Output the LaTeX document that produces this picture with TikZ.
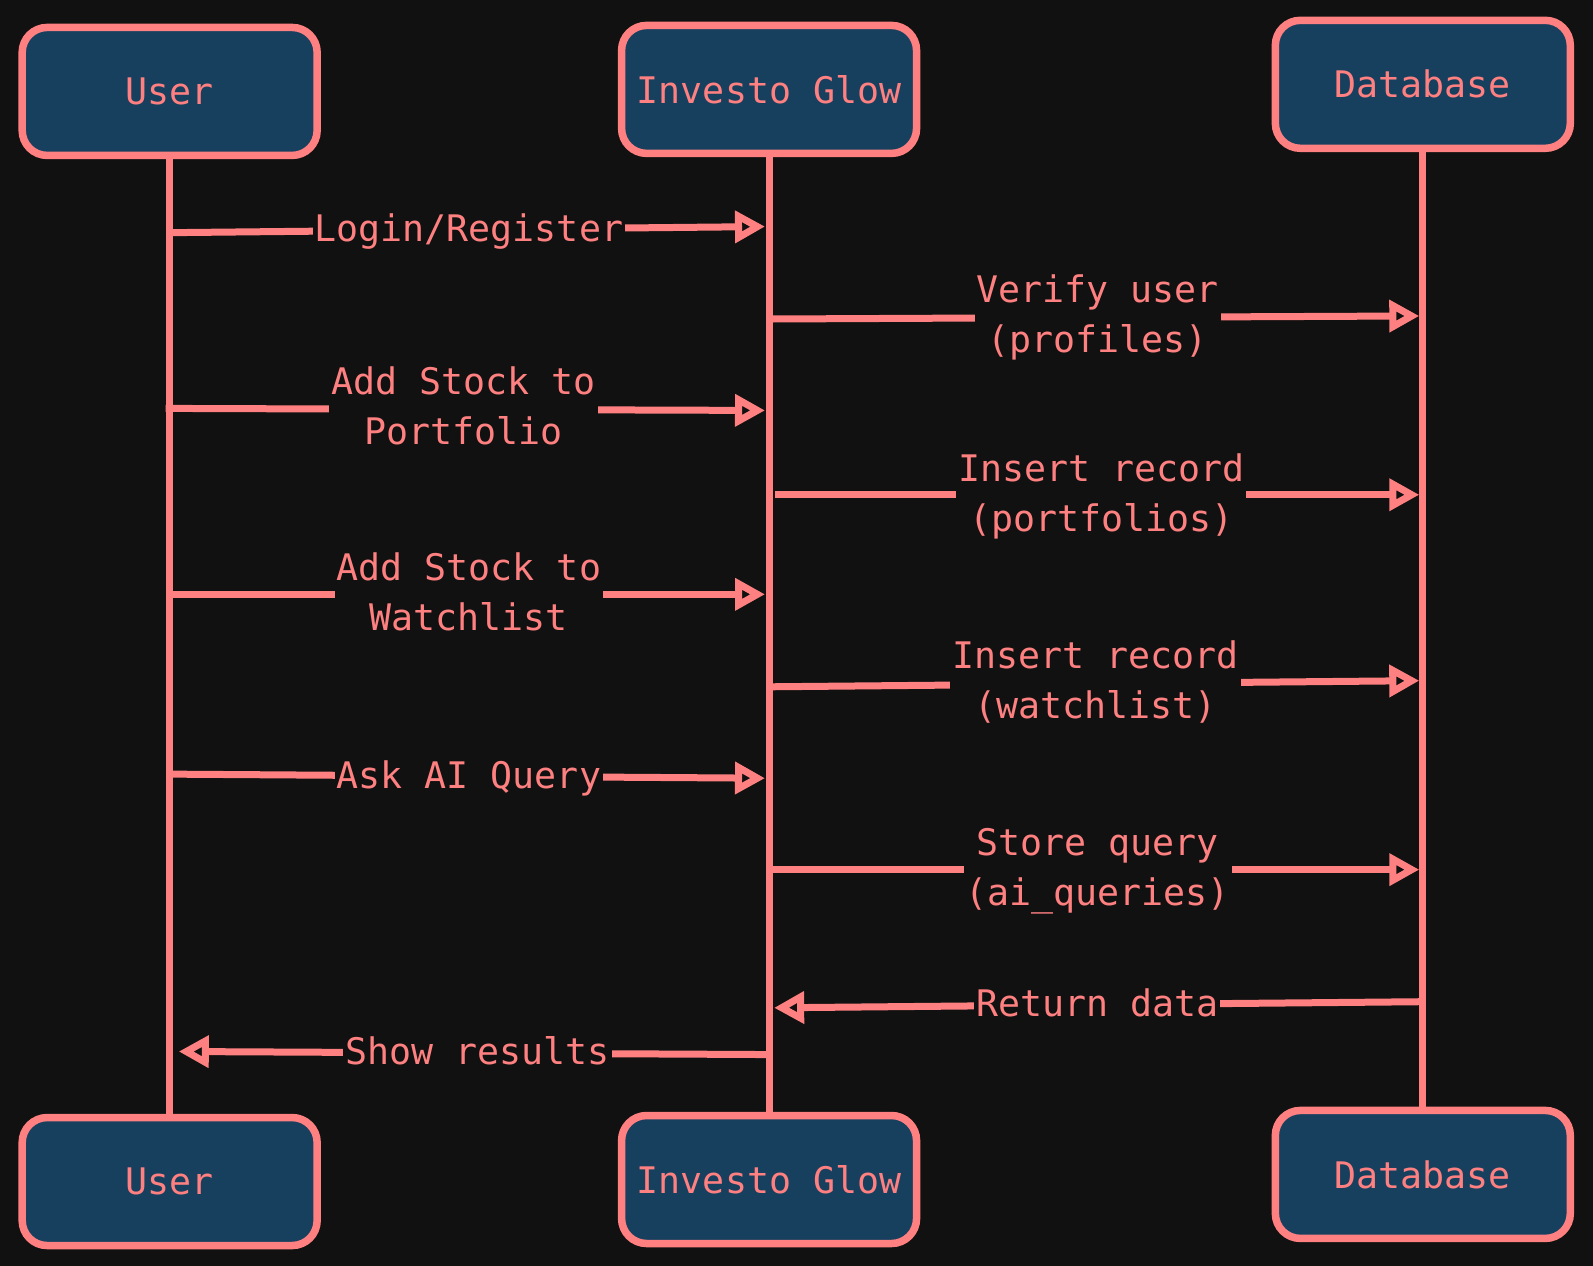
\documentclass[tikz,border=0pt]{standalone}
\usepackage{fontspec}
\setmainfont{DejaVu Sans Mono}
\usetikzlibrary{arrows.meta}
\definecolor{bg}{HTML}{111111}
\definecolor{salmon}{HTML}{FF8080}
\definecolor{boxfill}{HTML}{17405F}
\begin{document}
\begin{tikzpicture}[x=1.016pt,y=-1.016pt,
  actor/.style={draw=salmon, line width=7.5pt, fill=boxfill, rounded corners=25pt,
    minimum width=295pt, minimum height=128pt, text=salmon,
    font=\fontsize{36.6}{50}\selectfont, inner sep=0pt},
  msg/.style={draw=salmon, line width=7pt, -{Triangle[open,length=30pt,width=31pt]}},
  lbl/.style={fill=bg, text=salmon, font=\fontsize{36.6}{50}\selectfont,
    align=center, inner xsep=2pt, inner ysep=0pt},
  life/.style={draw=salmon, line width=7pt}]
\fill[bg] (0,0) rectangle (1568,1246);
\useasboundingbox (0,0) rectangle (1568,1246);

% actors
\node[actor] (uTop) at (167,90) {User};
\node[actor] (iTop) at (757,88) {Investo Glow};
\node[actor] (dTop) at (1400.5,83) {Database};
\node[actor] (uBot) at (167,1163) {User};
\node[actor] (iBot) at (757,1161) {Investo Glow};
\node[actor] (dBot) at (1400.5,1156) {Database};

% lifelines
\draw[life] (uTop.south) -- (uBot.north);
\draw[life] (iTop.south) -- (iBot.north);
\draw[life] (dTop.south) -- (dBot.north);

% message end points
\coordinate (m1a) at (170,229);  \coordinate (m1b) at (753,223);
\coordinate (m2a) at (760,314);  \coordinate (m2b) at (1397,311);
\coordinate (m3a) at (163,402);  \coordinate (m3b) at (753,404);
\coordinate (m4a) at (763,487);  \coordinate (m4b) at (1397,487);
\coordinate (m5a) at (170,585);  \coordinate (m5b) at (753,585);
\coordinate (m6a) at (760,676);  \coordinate (m6b) at (1397,670);
\coordinate (m7a) at (170,762);  \coordinate (m7b) at (753,766);
\coordinate (m8a) at (760,856);  \coordinate (m8b) at (1397,856);
\coordinate (m9a) at (1398,986); \coordinate (m9b) at (762,992);
\coordinate (m10a) at (754,1038); \coordinate (m10b) at (176,1035);

% messages
\draw[msg] (m1a) -- node[lbl, yshift=-2pt] {Login/Register} (m1b);
\draw[msg] (m2a) -- node[lbl, yshift=0pt, xshift=2pt] {Verify user\\(profiles)} (m2b);
\draw[msg] (m3a) -- node[lbl, yshift=4pt, xshift=-2pt] {Add Stock to\\Portfolio} (m3b);
\draw[msg] (m4a) -- node[lbl, yshift=-2pt, xshift=4pt] {Insert record\\(portfolios)} (m4b);
\draw[msg] (m5a) -- node[lbl, yshift=2pt] {Add Stock to\\Watchlist} (m5b);
\draw[msg] (m6a) -- node[lbl, yshift=2pt] {Insert record\\(watchlist)} (m6b);
\draw[msg] (m7a) -- node[lbl, yshift=-2pt] {Ask AI Query} (m7b);
\draw[msg] (m8a) -- node[lbl, yshift=-2pt, xshift=2pt] {Store query\\(ai\_queries)} (m8b);
\draw[msg] (m9a) -- node[lbl, yshift=2pt] {Return data} (m9b);
\draw[msg] (m10a) -- node[lbl, yshift=2pt, xshift=5pt] {Show results} (m10b);
\end{tikzpicture}
\end{document}
